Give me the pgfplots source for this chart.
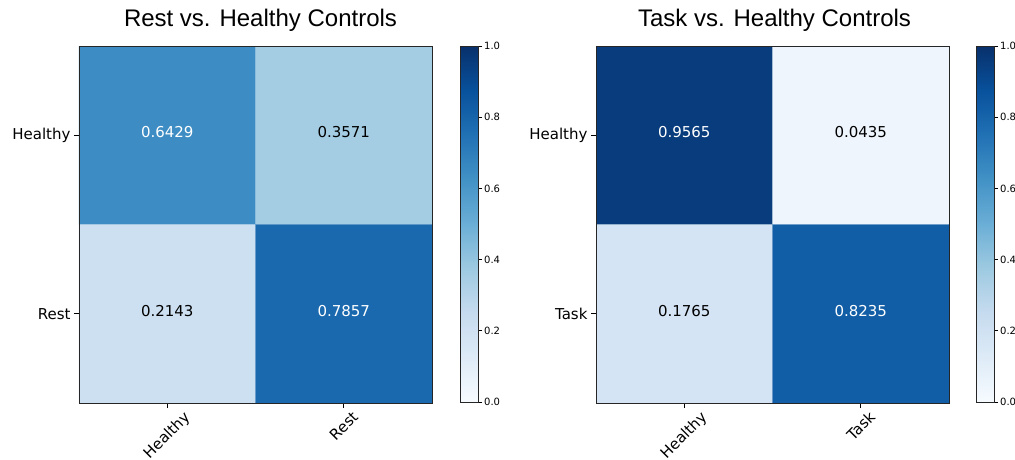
\documentclass[border=0pt]{standalone}
\usepackage{fontspec}
\setmainfont{DejaVu Sans}
\newfontfamily\titlefont{Liberation Sans}
\usepackage{graphicx}
\usepackage{pgfplots}
\pgfplotsset{compat=1.18}

\pgfplotsset{
  colormap={mplblues}{rgb255=(247,251,255) rgb255=(222,235,247) rgb255=(198,219,239) rgb255=(158,202,225) rgb255=(107,174,214) rgb255=(66,146,198) rgb255=(33,113,181) rgb255=(8,81,156) rgb255=(8,48,107)},
  cm/.style={
    scale only axis, width=353pt, height=357pt,
    axis on top,
    xmin=-0.5, xmax=1.5, ymin=-0.5, ymax=1.5, y dir=reverse,
    xtick={0,1}, ytick={0,1},
    tick align=outside, xtick pos=left, ytick pos=left,
    major tick length=5pt,
    tick style={black, line width=0.8pt},
    axis line style={black!85, line width=0.8pt},
    x tick label style={anchor=north, font=\fontsize{15}{18}\selectfont, inner sep=2pt},
    y tick label style={font=\fontsize{15}{18}\selectfont},
    title style={font=\titlefont\fontsize{24}{28}\selectfont, at={(0.5,1)}, anchor=base, yshift=14pt},
    point meta min=0, point meta max=1,
  },
  cbar/.style={
    scale only axis, width=18pt, height=356pt,
    axis on top,
    xmin=0, xmax=1, ymin=0, ymax=1,
    xtick=\empty,
    ytick={0,0.2,0.4,0.6,0.8,1.0},
    ytick pos=right, yticklabel pos=right,
    tick align=outside, major tick length=4pt,
    tick style={black, line width=0.6pt},
    axis line style={black!85, line width=0.8pt},
    point meta min=0, point meta max=1,
    yticklabel style={font=\fontsize{10}{11}\selectfont, inner sep=2pt, /pgf/number format/.cd, fixed, precision=1, fixed zerofill, assume math mode=true},
  },
  celltxt/.style={draw=none, mark=none, nodes near coords, nodes near coords align=center,
    point meta=explicit symbolic,
    nodes near coords style={#1, anchor=center, font=\fontsize{15}{18}\selectfont, yshift=3pt}},
}

\begin{document}
\begin{tikzpicture}
\path[use as bounding box] (0,0) rectangle (1015pt,460pt);

\begin{axis}[cm, at={(79pt,57pt)}, anchor=south west,
  title={Rest vs. Healthy Controls}, title style={xshift=5pt},
  xticklabels={\rotatebox{45}{Healthy}, \rotatebox{45}{Rest}},
  yticklabels={Healthy, Rest}]
\addplot[matrix plot*, mesh/cols=2, point meta=explicit] table[meta=c] {
x y c
0 0 0.6429
1 0 0.3571
0 1 0.2143
1 1 0.7857
};
\addplot[celltxt=white] table[meta=l] {
x y l
0 0 0.6429
1 1 0.7857
};
\addplot[celltxt=black] table[meta=l] {
x y l
1 0 0.3571
0 1 0.2143
};
\end{axis}

\begin{axis}[cbar, at={(460pt,58pt)}, anchor=south west]
\addplot[surf, shader=interp, mesh/cols=2, point meta=explicit] table[meta=c] {
x y c
0 0 0
1 0 0
0 1 1
1 1 1
};
\end{axis}

\begin{axis}[cm, at={(596pt,57pt)}, anchor=south west,
  title={Task vs. Healthy Controls}, title style={xshift=2pt},
  xticklabels={\rotatebox{45}{Healthy}, \rotatebox{45}{Task}},
  yticklabels={Healthy, Task}]
\addplot[matrix plot*, mesh/cols=2, point meta=explicit] table[meta=c] {
x y c
0 0 0.9565
1 0 0.0435
0 1 0.1765
1 1 0.8235
};
\addplot[celltxt=white] table[meta=l] {
x y l
0 0 0.9565
1 1 0.8235
};
\addplot[celltxt=black] table[meta=l] {
x y l
1 0 0.0435
0 1 0.1765
};
\end{axis}

\begin{axis}[cbar, at={(976pt,58pt)}, anchor=south west]
\addplot[surf, shader=interp, mesh/cols=2, point meta=explicit] table[meta=c] {
x y c
0 0 0
1 0 0
0 1 1
1 1 1
};
\end{axis}
\end{tikzpicture}
\end{document}
